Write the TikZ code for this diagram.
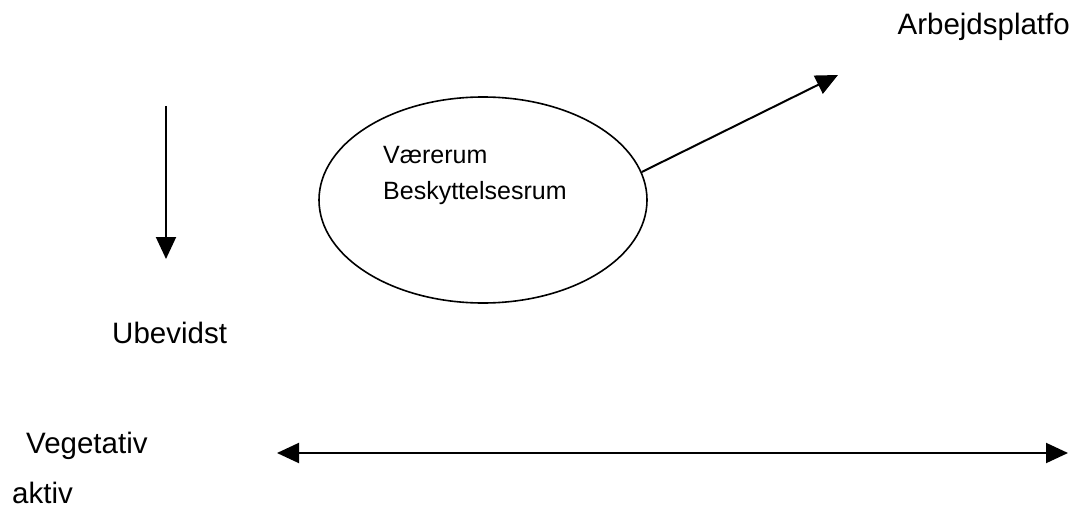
\documentclass[tikz,border=0pt]{standalone}
\usepackage{fontspec}
\setmainfont{Liberation Sans}
\usetikzlibrary{shapes.geometric, arrows.meta}

\begin{document}
\begin{tikzpicture}[
			x=1pt,
			y=-1pt,
			bigtext/.style={
				font=\fontsize{29.5}{34}\selectfont,
				inner sep=0pt
			},
			smalltext/.style={
				font=\fontsize{25}{29}\selectfont,
				inner sep=0pt,
				anchor=west
			},
			room/.style={
				draw,
				ellipse,
				line width=1.6pt,
				minimum width=328pt,
				minimum height=206pt,
				inner sep=0pt
			},
			pointer/.style={
				line width=2pt,
				-{Triangle[length=22pt,width=20pt]}
			}
			]
			\useasboundingbox (0,0) rectangle (1075,508);

			% Ellipse and its texts
			\node[room] (rum) at (483,200) {};
			\node[smalltext] (vaere) at (383,155) {Værerum};
			\node[smalltext] (beskyt) at (383,193) {Beskyttelsesrum};

			% Labels
			\node[bigtext, anchor=east] (platform) at (1070,27) {Arbejdsplatfo};
			\node[bigtext, anchor=west] (ubevidst) at (112,333) {Ubevidst};
			\node[bigtext, anchor=west] (vegetativ) at (26,446) {Vegetativ};
			\node[bigtext, anchor=west] (aktiv) at (12,493) {aktiv};

			% Arrow ends
			\coordinate (optop) at (838,75);
			\coordinate (ned1) at (166,106);
			\coordinate (ned2) at (166,259);
			\coordinate (venstre) at (277,453);
			\coordinate (hoejre) at (1068,453);

			% Arrows
			\draw[pointer] (rum.10) -- (optop);
			\draw[pointer] (ned1) -- (ned2);
			\draw[pointer, {Triangle[length=22pt,width=20pt]}-{Triangle[length=22pt,width=20pt]}] (venstre) -- (hoejre);
		\end{tikzpicture}
\end{document}
